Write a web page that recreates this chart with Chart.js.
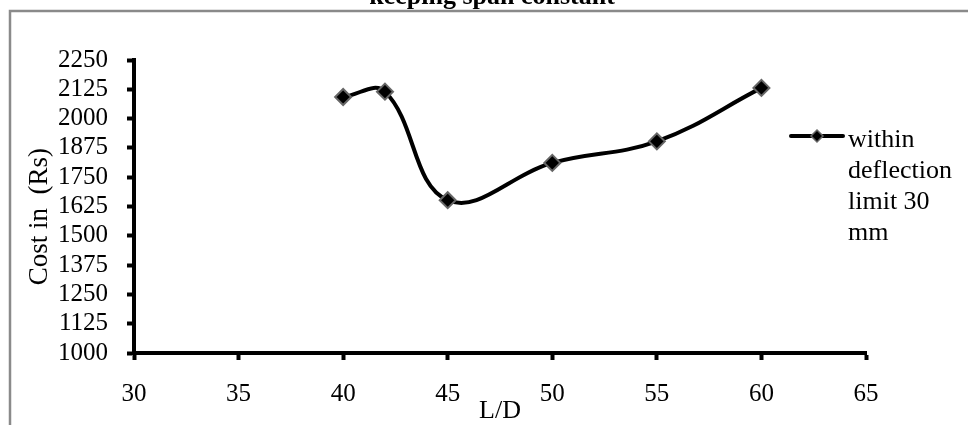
<!DOCTYPE html>
<html>
<head>
<meta charset="utf-8">
<script src="https://cdn.jsdelivr.net/npm/chart.js@4.4.1/dist/chart.umd.min.js"></script>
<style>
  html, body { margin: 0; padding: 0; background: #fff; }
  #wrap { width: 968px; height: 425px; position: relative; }
</style>
</head>
<body>
<div id="wrap"><canvas id="chart" width="968" height="425"></canvas></div>
<script>
// ---------------- DATA ----------------
const ldRatio = [40, 42, 45, 50, 55, 60];
const costRs = [2092, 2115, 1652, 1811, 1903, 2131];
const seriesName = ["within", "deflection", "limit 30", "mm"];
const chartTitle = "keeping span constant";

const SERIF = "'Liberation Serif', 'Times New Roman', serif";

// frame, cut-off title and legend drawn by hand
const decorPlugin = {
  id: "decor",
  afterDraw(chart) {
    const ctx = chart.ctx;
    ctx.save();

    // outer frame (runs off right/bottom)
    ctx.strokeStyle = "#8a8a8a";
    ctx.lineWidth = 2.5;
    ctx.strokeRect(10, 11, 1000, 500);

    // title, mostly cut off by the top edge
    ctx.fillStyle = "#000";
    ctx.font = "bold 26px " + SERIF;
    ctx.textAlign = "center";
    ctx.textBaseline = "alphabetic";
    ctx.fillText(chartTitle, 492, 4);

    // legend
    ctx.strokeStyle = "#000";
    ctx.lineWidth = 4;
    ctx.lineCap = "round";
    ctx.beginPath();
    ctx.moveTo(791, 136);
    ctx.lineTo(843, 136);
    ctx.stroke();

    ctx.beginPath();
    ctx.moveTo(817, 130);
    ctx.lineTo(823, 136);
    ctx.lineTo(817, 142);
    ctx.lineTo(811, 136);
    ctx.closePath();
    ctx.fillStyle = "#000";
    ctx.fill();
    ctx.strokeStyle = "#666";
    ctx.lineWidth = 1.5;
    ctx.stroke();

    ctx.fillStyle = "#000";
    ctx.font = "26px " + SERIF;
    ctx.textAlign = "left";
    seriesName.forEach((line, i) => {
      ctx.fillText(line, 848, 147 + i * 31);
    });

    ctx.restore();
  },
};

const points = ldRatio.map((x, i) => ({ x, y: costRs[i] }));

new Chart(document.getElementById("chart"), {
  type: "line",
  data: {
    datasets: [
      {
        label: seriesName.join(" "),
        data: points,
        borderColor: "#000",
        borderWidth: 4,
        tension: 0.4,
        pointStyle: "rectRot",
        pointRadius: 8,
        pointBackgroundColor: "#000",
        pointBorderColor: "#666",
        pointBorderWidth: 2,
      },
    ],
  },
  options: {
    responsive: false,
    animation: false,
    layout: {
      padding: { left: 24, right: 102, top: 60, bottom: 1 },
    },
    plugins: {
      legend: { display: false },
      tooltip: { enabled: false },
    },
    scales: {
      x: {
        type: "linear",
        min: 30,
        max: 65,
        afterFit: (s) => { s.height = 71; },
        ticks: {
          stepSize: 5,
          autoSkip: false,
          maxRotation: 0,
          padding: 19,
          color: "#000",
          font: { family: SERIF, size: 25 },
          callback: (v) => String(v),
        },
        grid: {
          drawOnChartArea: false,
          drawTicks: true,
          tickLength: 7,
          tickWidth: 4,
          tickColor: "#000",
        },
        border: { color: "#000", width: 4 },
        title: {
          display: true,
          text: "L/D",
          color: "#000",
          padding: 0,
          font: { family: SERIF, size: 26, lineHeight: 1 },
        },
      },
      y: {
        min: 1000,
        max: 2250,
        afterFit: (s) => { s.width = 110; },
        ticks: {
          stepSize: 125,
          autoSkip: false,
          padding: 19,
          color: "#000",
          font: { family: SERIF, size: 25 },
          callback: (v) => String(v),
        },
        grid: {
          drawOnChartArea: false,
          drawTicks: true,
          tickLength: 7,
          tickWidth: 4,
          tickColor: "#000",
        },
        border: { color: "#000", width: 4 },
        title: {
          display: true,
          // trailing spaces nudge the rotated title a little lower, as in the original
          text: "Cost in  (Rs)\u00a0\u00a0\u00a0",
          color: "#000",
          padding: 0,
          font: { family: SERIF, size: 27, lineHeight: 1.2 },
        },
      },
    },
  },
  plugins: [decorPlugin],
});
</script>
</body>
</html>
